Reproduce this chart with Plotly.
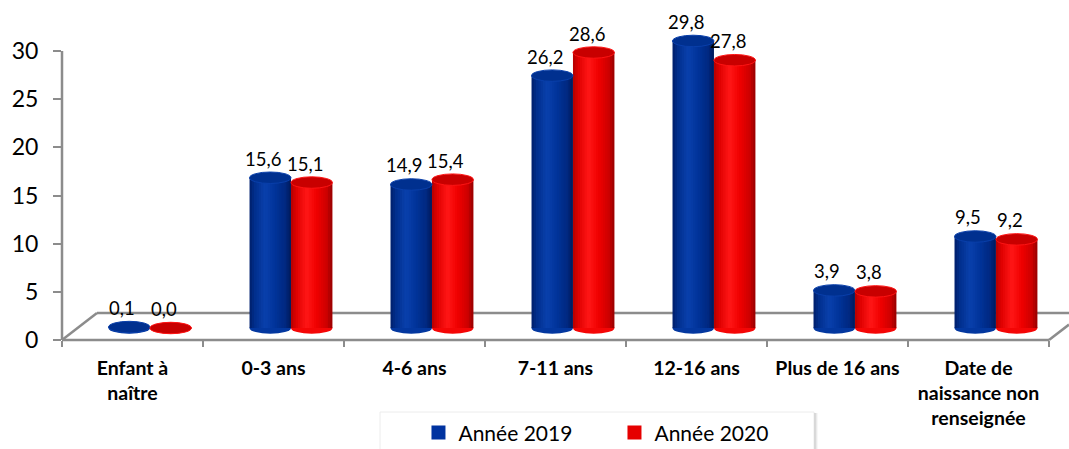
import plotly.graph_objects as go
import numpy as np

# ---- data ---------------------------------------------------------------
categories = ["Enfant à<br>naître", "0-3 ans", "4-6 ans", "7-11 ans", "12-16 ans",
              "Plus de 16 ans", "Date de<br>naissance non<br>renseignée"]
values_2019 = [0.1, 15.6, 14.9, 26.2, 29.8, 3.9, 9.5]
values_2020 = [0.0, 15.1, 15.4, 28.6, 27.8, 3.8, 9.2]
series_names = ["Année 2019", "Année 2020"]
y_ticks = [0, 5, 10, 15, 20, 25, 30]

# ---- geometry of the pseudo 3D frame --------------------------------------
N_CAT = len(categories)
X_MAX = N_CAT + 0.142          # axis range, a bit past the last category
Y_MAX = 33.22                  # value axis range
DEPTH_DX = 0.248               # floor depth in x units
DEPTH_DY = 2.8                 # floor depth in y units
BAR_BASE = 1.246               # bars stand mid-depth on the floor
BAR_W = 0.294
CAP_H = 1.19                   # height of the elliptical caps (value units)
GRAY = "#8c8c8c"
FONT = "Lato"

# colour stops across a cylinder (0 = left edge, 1 = right edge)
blue_stops = [(0.0, (0, 30, 105)), (0.12, (0, 46, 140)), (0.38, (10, 64, 172)),
              (0.62, (0, 51, 153)), (0.86, (0, 40, 128)), (1.0, (0, 26, 90))]
red_stops = [(0.0, (178, 0, 0)), (0.12, (222, 0, 0)), (0.38, (255, 22, 22)),
             (0.62, (240, 0, 0)), (0.86, (205, 0, 0)), (1.0, (150, 0, 0))]
cap_colors = ["#00308f", "#c80000"]
legend_colors = ["#0033a0", "#e60000"]


def stop_color(stops, t):
    for (t0, c0), (t1, c1) in zip(stops[:-1], stops[1:]):
        if t <= t1:
            f = (t - t0) / (t1 - t0)
            c = [round(a + (b - a) * f) for a, b in zip(c0, c1)]
            return f"rgb({c[0]},{c[1]},{c[2]})"
    c = stops[-1][1]
    return f"rgb({c[0]},{c[1]},{c[2]})"


def px(x):
    return x / X_MAX


def py(y):
    return y / Y_MAX


fig = go.Figure()

cat_centers = np.arange(N_CAT) + 0.5
shift = DEPTH_DX / 2
series = [
    (values_2019, cat_centers + shift - BAR_W / 2, blue_stops, cap_colors[0]),
    (values_2020, cat_centers + shift + BAR_W / 2, red_stops, cap_colors[1]),
]

N_SLICES = 18
shapes = []

# floor and axis lines
line = dict(color=GRAY, width=2.5)
for (x0, y0, x1, y1) in [
    (0, 0, N_CAT, 0),
    (0, 0, DEPTH_DX, DEPTH_DY),
    (DEPTH_DX, DEPTH_DY, X_MAX, DEPTH_DY),
    (N_CAT, 0, X_MAX, DEPTH_DY * (X_MAX - N_CAT) / DEPTH_DX),
    (0, 0, 0, y_ticks[-1]),
]:
    shapes.append(dict(type="line", xref="paper", yref="paper", x0=px(x0), y0=py(y0),
                       x1=px(x1), y1=py(y1), line=line, layer="below"))

for vals, xs, stops, cap in series:
    # cylinder body, drawn as thin vertical slices for the shading
    sw = BAR_W / N_SLICES
    for k in range(N_SLICES):
        t = (k + 0.5) / N_SLICES
        fig.add_trace(go.Bar(
            x=xs, y=vals, yaxis="y2",
            offset=-BAR_W / 2 + k * sw,
            width=sw * (1.35 if k < N_SLICES - 1 else 1.0),
            marker=dict(color=stop_color(stops, t), line=dict(width=0)),
            showlegend=False, hoverinfo="skip",
        ))
    for x, v in zip(xs, vals):
        # rounded bottom
        shapes.append(dict(type="circle", xref="x", yref="y2",
                           x0=x - BAR_W / 2, x1=x + BAR_W / 2,
                           y0=-CAP_H / 2, y1=CAP_H / 2,
                           fillcolor=stop_color(stops, 0.55), line=dict(width=0),
                           layer="below"))
        # top cap
        shapes.append(dict(type="circle", xref="x", yref="y2",
                           x0=x - BAR_W / 2, x1=x + BAR_W / 2,
                           y0=v - CAP_H / 2, y1=v + CAP_H / 2,
                           fillcolor=cap, line=dict(color=stop_color(stops, 0.4), width=1),
                           layer="above"))

# value labels
annotations = []
for vals, xs, _, _ in series:
    for x, v in zip(xs, vals):
        annotations.append(dict(
            x=x, y=v, xref="x", yref="y2", text=f"{v:.1f}".replace(".", ","),
            showarrow=False, xshift=-7, yshift=19,
            font=dict(family=FONT, size=18.5, color="black"),
        ))

# legend entries
for name, col in zip(series_names, legend_colors):
    fig.add_trace(go.Bar(x=[None], y=[None], name=name,
                         marker=dict(color=col, line=dict(color=col, width=2))))

# legend frame with a soft shadow on the right
for i, a in enumerate([0.03, 0.05, 0.07, 0.10]):
    shapes.append(dict(type="rect", xref="paper", yref="paper",
                       x0=0.3178, x1=0.7468 + (4 - i) / 1007,
                       y0=-0.40, y1=-0.228,
                       fillcolor=f"rgba(0,0,0,{a})", line=dict(width=0), layer="below"))
shapes.append(dict(type="rect", xref="paper", yref="paper",
                   x0=0.3158, x1=0.7468, y0=-0.40, y1=-0.225,
                   fillcolor="white", line=dict(color="#ececec", width=1), layer="below"))

fig.update_layout(
    width=1069, height=449,
    margin=dict(l=62, r=0, t=20, b=109, autoexpand=False),
    paper_bgcolor="white", plot_bgcolor="rgba(0,0,0,0)",
    barmode="overlay",
    font=dict(family=FONT, color="black"),
    shapes=shapes, annotations=annotations,
    xaxis=dict(
        range=[0, X_MAX], showgrid=False, zeroline=False, showline=False,
        tickvals=list(cat_centers), ticktext=categories, ticks="",
        tickfont=dict(family=FONT, size=19.5, color="black", weight="bold"),
        ticklabelstandoff=14,
        minor=dict(tickvals=list(range(N_CAT + 1)), ticks="outside", ticklen=6,
                   tickwidth=2, tickcolor=GRAY, showgrid=False),
    ),
    yaxis=dict(
        range=[0, Y_MAX], showgrid=False, zeroline=False, showline=False,
        tickvals=y_ticks, ticks="outside", ticklen=8, tickwidth=2, tickcolor=GRAY,
        tickfont=dict(family=FONT, size=23, color="black"), ticklabelstandoff=10,
    ),
    yaxis2=dict(range=[-BAR_BASE, Y_MAX - BAR_BASE], overlaying="y", visible=False),
    legend=dict(orientation="h", x=0.354, xanchor="left", y=-0.226, yanchor="top",
                bgcolor="rgba(0,0,0,0)", font=dict(family=FONT, size=21, color="black"),
                entrywidth=151, entrywidthmode="pixels", itemclick=False,
                itemdoubleclick=False),
)

fig.write_html("out.html")
